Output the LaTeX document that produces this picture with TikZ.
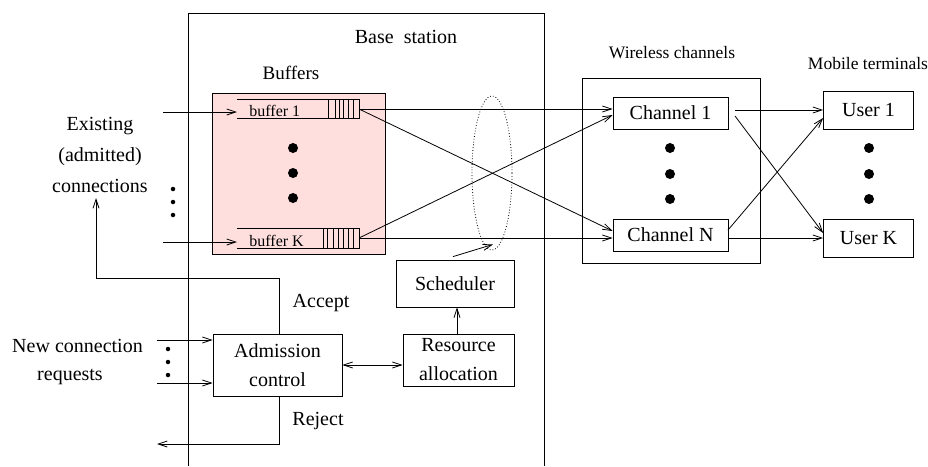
\documentclass[tikz,border=0pt]{standalone}
\usepackage{fontspec}
\setmainfont{Liberation Serif}
\usetikzlibrary{arrows.meta,shapes.geometric}

\definecolor{bufpink}{RGB}{255,222,222}

\tikzset{
  x=1pt, y=-1pt,
  every path/.style={line width=0.8pt},
  arr/.style={-{Straight Barb[length=9pt,width=6pt]}},
  darr/.style={{Straight Barb[length=9pt,width=6pt]}-{Straight Barb[length=9pt,width=6pt]}},
  blk/.style={draw, rectangle, inner sep=0pt, align=center, font=\fontsize{20}{29}\selectfont},
  lbl/.style={inner sep=0pt, align=center, font=\fontsize{20}{31}\selectfont},
  smalllbl/.style={inner sep=0pt, font=\fontsize{17.5}{21}\selectfont},
  buflbl/.style={inner sep=0pt, anchor=base west, font=\fontsize{16}{19}\selectfont},
  bigdot/.style={fill, circle, inner sep=0pt, minimum size=10pt},
  smalldot/.style={fill, circle, inner sep=0pt, minimum size=4.5pt},
}

\begin{document}
\begin{tikzpicture}
\useasboundingbox (0,0) rectangle (928,466);

% base station (open at the bottom)
\draw (188,466) -- (188,13) -- (544,13) -- (544,466);
\node[lbl] (bslabel) at (406,37) {Base\ \ station};

% buffer area
\filldraw[fill=bufpink, draw=black] (212,93) rectangle (385,254);
\node[lbl, font=\fontsize{19}{23}\selectfont] (buflabel) at (291,73) {Buffers};

% buffer 1
\draw (237,99) -- (359,99) -- (359,118) -- (237,118);
\foreach \cx in {328,335,339,343,348,353}
  \draw (\cx,99) -- (\cx,118);
\node[buflbl] (b1txt) at (249,116) {buffer 1};
\coordinate (b1in) at (237,112);
\coordinate (b1out) at (359,109);

% buffer K
\draw (237,228) -- (359,228) -- (359,248) -- (237,248);
\foreach \cx in {323,327,333,338,343,348,353}
  \draw (\cx,228) -- (\cx,248);
\node[buflbl] (bKtxt) at (249,246) {buffer K};
\coordinate (bKin) at (237,242);
\coordinate (bKout) at (359,238);

\node[bigdot] (bd1) at (293,148) {};
\node[bigdot] (bd2) at (293,173) {};
\node[bigdot] (bd3) at (293,198) {};

% existing connections
\node[lbl] (exist) at (100,155) {Existing\\(admitted)\\connections};
\coordinate (e1) at (163,112);
\coordinate (eK) at (163,242);
\draw[arr] (e1) -- (b1in);
\draw[arr] (eK) -- (bKin);
\node[smalldot] (ld1) at (173,189) {};
\node[smalldot] (ld2) at (173,202) {};
\node[smalldot] (ld3) at (173,215) {};

% wireless channels
\draw (582,78) rectangle (760,263);
\node[smalllbl] (wclabel) at (672,53) {Wireless channels};
\node[blk, minimum width=115pt, minimum height=32pt] (c1) at (670.5,113) {Channel 1};
\node[blk, minimum width=115pt, minimum height=32pt] (cN) at (670.5,235) {Channel N};
\node[bigdot] (cd1) at (670,148) {};
\node[bigdot] (cd2) at (670,174) {};
\node[bigdot] (cd3) at (670,199) {};

% mobile terminals
\node[smalllbl] (mtlabel) at (868,64) {Mobile terminals};
\node[blk, minimum width=90pt, minimum height=38pt] (u1) at (868.5,110) {User 1};
\node[blk, minimum width=90pt, minimum height=38pt] (uK) at (868.5,238) {User K};
\node[bigdot] (ud1) at (869,148) {};
\node[bigdot] (ud2) at (869,174) {};
\node[bigdot] (ud3) at (869,199) {};

% buffers to channels
\draw[arr] (b1out) -- (b1out -| c1.west);
\draw[arr] (b1out) -- ([yshift=4pt]cN.west);
\draw[arr] (bKout) -- ([yshift=-2pt]c1.west);
\draw[arr] (bKout) -- (bKout -| cN.west);

% channels to users
\coordinate (c1o) at (735,110);
\coordinate (c1x) at (735,116);
\coordinate (cNx) at (728,230);
\coordinate (cNo) at (728,238);
\draw[arr] (c1o) -- (c1o -| u1.west);
\draw[arr] (c1x) -- ([yshift=5pt]uK.west);
\draw[arr] (cNx) -- ([yshift=-8pt]u1.west);
\draw[arr] (cNo) -- (cNo -| uK.west);

% scheduled group
\node[draw, dotted, ellipse, inner sep=0pt, minimum width=40pt, minimum height=154pt] (grp) at (492,173) {};

% scheduler and resource allocation
\node[blk, minimum width=118pt, minimum height=47pt] (sch) at (455,283.5) {Scheduler};
\node[blk, minimum width=111pt, minimum height=52pt] (res) at (458.5,360) {Resource\\allocation};
\draw[arr] ([xshift=-2pt,yshift=3pt]sch.north) -- ([xshift=1pt,yshift=6pt]grp.south);
\draw[arr] (res.north -| 457,0) -- (sch.south -| 457,0);

% admission control
\node[blk, minimum width=129pt, minimum height=62pt] (adm) at (277.5,365) {Admission\\control};
\draw[darr] (adm.east) -- (adm.east -| res.west);

\coordinate (acc) at (96,278);
\coordinate (acctip) at (96,198);
\draw[arr] ([xshift=1.5pt]adm.north) |- (acc) -- (acctip);
\node[lbl] (acclbl) at (321,303) {Accept};

\coordinate (rej) at (157,444);
\draw[arr] ([xshift=1.5pt]adm.south) |- (rej);
\node[lbl] (rejlbl) at (318,421) {Reject};

% new connection requests
\node[lbl] (newlbl) at (77.5,346) {New connection};
\node[lbl] (reqlbl) at (70,377) {requests};
\coordinate (nr1) at (157,340);
\coordinate (nr2) at (157,383);
\draw[arr] (nr1) -- (nr1 -| adm.west);
\draw[arr] (nr2) -- (nr2 -| adm.west);
\node[smalldot] (nd1) at (168,349) {};
\node[smalldot] (nd2) at (168,362) {};
\node[smalldot] (nd3) at (168,375) {};
\end{tikzpicture}
\end{document}
